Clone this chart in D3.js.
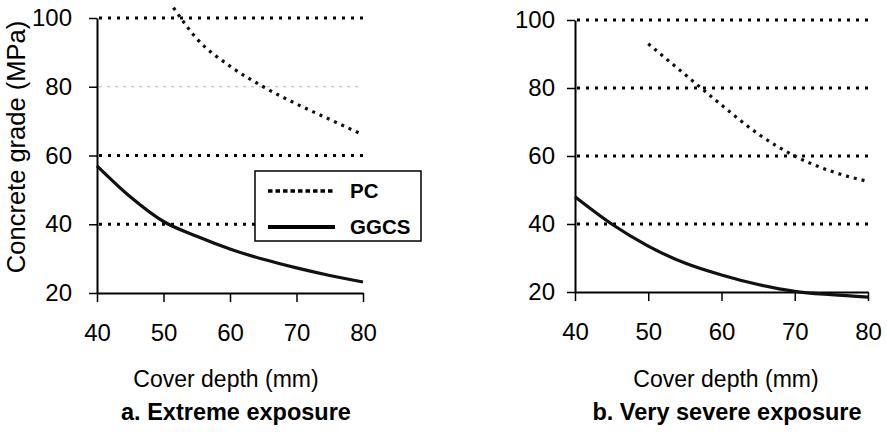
<!DOCTYPE html>
<html>
<head>
<meta charset="utf-8">
<script src="https://cdn.jsdelivr.net/npm/d3@7/dist/d3.min.js"></script>
<style>
  html, body { margin: 0; padding: 0; background: #fff; }
  svg { display: block; }
  text { font-family: "Liberation Sans", Arial, sans-serif; fill: #000; }
</style>
</head>
<body>
<svg id="chart" width="887" height="432"></svg>
<script>
// Cover depth (mm) and required concrete grade (MPa)
const coverDepth = [40, 45, 50, 55, 60, 65, 70, 75, 80];

// a. Extreme exposure
const pcExtremeDepth = [51.5, 55, 60, 65, 70, 75, 80];
const ggcsExtreme = [57, 48, 40.8, 36.5, 32.8, 29.8, 27.3, 25.1, 23.2];
const pcExtreme = [103, 94, 86, 80, 75, 70.5, 66];

// b. Very severe exposure
const pcSevereDepth = [50, 55, 60, 65, 70, 75, 80];
const ggcsSevere = [48, 40, 33.5, 28.5, 25, 22.2, 20.2, 19.2, 18.5];
const pcSevere = [93, 84, 75, 66.5, 60, 55.5, 52.5];

const xTicks = [40, 50, 60, 70, 80];
const yTicks = [20, 40, 60, 80, 100];
const seriesNames = ["PC", "GGCS"];
const panelTitles = ["a. Extreme exposure", "b. Very severe exposure"];
const xTitle = "Cover depth (mm)";
const yTitle = "Concrete grade (MPa)";

const svg = d3.select("#chart");

function drawPanel(opt) {
  const x = d3.scaleLinear().domain([40, 80]).range([opt.left, opt.right]);
  const y = d3.scaleLinear().domain([20, 100]).range([opt.bottom, opt.top]);
  const g = svg.append("g");

  // dotted horizontal gridlines
  g.append("g").selectAll("line")
    .data(yTicks.filter(v => v > 20))
    .join("line")
    .attr("x1", opt.left + 2).attr("x2", opt.right)
    .attr("y1", d => y(d)).attr("y2", d => y(d))
    .attr("stroke", d => (opt.lightGrid === d ? "#b5b5b5" : "#000"))
    .attr("stroke-width", d => (opt.lightGrid === d ? 1 : 3))
    .attr("stroke-dasharray", d => (opt.lightGrid === d ? "3,5" : "3,6"));

  // y axis
  const yAxis = g.append("g")
    .attr("transform", `translate(${opt.left},0)`)
    .call(d3.axisLeft(y).tickValues(yTicks).tickSize(8).tickPadding(opt.yPad).tickSizeOuter(0));
  yAxis.select(".domain").attr("stroke", "#000").attr("stroke-width", 2);
  yAxis.selectAll(".tick line").attr("stroke", "#000").attr("stroke-width", 1.5);
  yAxis.selectAll(".tick text")
    .style("font-family", '"Liberation Sans", Arial, sans-serif')
    .style("font-size", "24px").attr("fill", "#000");

  // x axis
  const xAxis = g.append("g")
    .attr("transform", `translate(0,${opt.bottom})`)
    .call(d3.axisBottom(x).tickValues(xTicks).tickSize(9).tickPadding(22).tickSizeOuter(0));
  xAxis.select(".domain").attr("stroke", "#000").attr("stroke-width", 2);
  xAxis.selectAll(".tick line").attr("stroke", "#000").attr("stroke-width", 1.5);
  xAxis.selectAll(".tick text")
    .style("font-family", '"Liberation Sans", Arial, sans-serif')
    .style("font-size", "24px").attr("fill", "#000");

  const line = d3.line()
    .x(d => x(d[0])).y(d => y(d[1]))
    .curve(d3.curveMonotoneX);

  // PC (dotted)
  g.append("path")
    .datum(d3.zip(opt.pcX, opt.pc))
    .attr("d", line)
    .attr("fill", "none")
    .attr("stroke", "#111")
    .attr("stroke-width", 3.2)
    .attr("stroke-dasharray", "3,5");

  // GGCS (solid)
  g.append("path")
    .datum(d3.zip(coverDepth, opt.ggcs))
    .attr("d", line)
    .attr("fill", "none")
    .attr("stroke", "#111")
    .attr("stroke-width", 3.2);

  // axis title and panel caption
  g.append("text")
    .attr("x", opt.xTitleX).attr("y", 387)
    .attr("text-anchor", "middle")
    .style("font-size", "23px")
    .text(xTitle);
  g.append("text")
    .attr("x", opt.captionX).attr("y", 420)
    .attr("text-anchor", "middle")
    .style("font-size", "23.5px").style("font-weight", "bold")
    .text(opt.caption);
  return g;
}

drawPanel({
  left: 97, right: 363, top: 18, bottom: 293, yPad: 17,
  ggcs: ggcsExtreme, pc: pcExtreme, pcX: pcExtremeDepth,
  lightGrid: 80, xTitleX: 226, captionX: 236, caption: panelTitles[0]
});

drawPanel({
  left: 575, right: 868, top: 20, bottom: 292, yPad: 12,
  ggcs: ggcsSevere, pc: pcSevere, pcX: pcSevereDepth,
  lightGrid: null, xTitleX: 726, captionX: 727, caption: panelTitles[1]
});

// y axis title (left panel)
svg.append("text")
  .attr("transform", "translate(25,147) rotate(-90)")
  .attr("text-anchor", "middle")
  .style("font-size", "25.5px")
  .text(yTitle);

// legend
const legend = svg.append("g");
legend.append("rect")
  .attr("x", 255).attr("y", 171).attr("width", 166).attr("height", 70)
  .attr("fill", "#fff").attr("stroke", "#000").attr("stroke-width", 1.5);
const legendRows = [
  { name: seriesNames[0], dash: "4.5,3", y: 191, w: 3.5 },
  { name: seriesNames[1], dash: null, y: 227, w: 4 }
];
legendRows.forEach(r => {
  legend.append("line")
    .attr("x1", 268).attr("x2", 335).attr("y1", r.y).attr("y2", r.y)
    .attr("stroke", "#000").attr("stroke-width", r.w)
    .attr("stroke-dasharray", r.dash);
  legend.append("text")
    .attr("x", 350).attr("y", r.y + 7)
    .style("font-size", "20.5px").style("font-weight", "bold")
    .text(r.name);
});
</script>
</body>
</html>
